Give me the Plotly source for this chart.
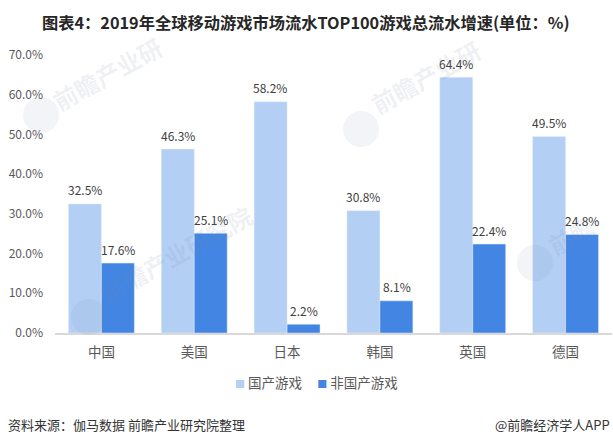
import plotly.graph_objects as go

categories = ["中国", "美国", "日本", "韩国", "英国", "德国"]
domestic = [32.5, 46.3, 58.2, 30.8, 64.4, 49.5]
non_domestic = [17.6, 25.1, 2.2, 8.1, 22.4, 24.8]
y_ticks = [0, 10, 20, 30, 40, 50, 60, 70]
y_labels = ["0.0%", "10.0%", "20.0%", "30.0%", "40.0%", "50.0%", "60.0%", "70.0%"]

FONT = "Noto Sans CJK SC"
W, H = 613, 445
LEFT, RIGHT, TOP, BOTTOM = 55, 612, 55, 333
LIGHT, DARK = "#B3CFF4", "#4285E3"


# 像素转 paper 坐标 (paper 相对绘图区)
def px_x(p):
    return (p - LEFT) / (RIGHT - LEFT)


def px_y(p):
    return (BOTTOM - p) / (BOTTOM - TOP)


def add_text(x, y, text, size, color, xanchor="center"):
    fig.add_annotation(
        x=px_x(x), y=px_y(y), xref="paper", yref="paper", text=text, xanchor=xanchor, yanchor="middle",
        showarrow=False, font=dict(family=FONT, size=size, color=color),
    )


fig = go.Figure()
fig.add_trace(go.Bar(x=categories, y=domestic, name="国产游戏", marker_color=LIGHT))
fig.add_trace(go.Bar(x=categories, y=non_domestic, name="非国产游戏", marker_color=DARK))

# 数值标签
for cat, a, b in zip(categories, domestic, non_domestic):
    for val, shift in [(a, -16.7), (b, 16.7)]:
        fig.add_annotation(
            x=cat, y=val, text=f"{val:.1f}%", xshift=shift, yshift=14, showarrow=False,
            font=dict(family=FONT, size=12, color="#404040"),
        )

# 水印
for x, y, txt in [(107, 73, "前瞻产业研"), (426, 77, "前瞻产业研"), (176, 253, "前瞻产业研究院"), (571, 235, "前瞻")]:
    fig.add_annotation(
        x=px_x(x), y=px_y(y), xref="paper", yref="paper", text=f"<b>{txt}</b>", xanchor="center", yanchor="middle",
        showarrow=False, textangle=-29, font=dict(family=FONT, size=24, color="rgba(120,135,165,0.13)"),
    )
for x, y in [(41, 115), (361, 129), (89, 317), (535, 263)]:
    fig.add_shape(
        type="circle", xref="paper", yref="paper", layer="above", line_width=0,
        x0=px_x(x - 18), x1=px_x(x + 18), y0=px_y(y + 18), y1=px_y(y - 18),
        fillcolor="rgba(120,135,165,0.09)",
    )

add_text(306, 22, "<b>图表4：2019年全球移动游戏市场流水TOP100游戏总流水增速(单位：%)</b>", 16.25, "#262626")
add_text(6, 424, "资料来源：伽马数据 前瞻产业研究院整理", 13, "#333333", "left")
add_text(612, 424, "@前瞻经济学人APP", 13, "#333333", "right")
add_text(
    316, 382,
    f"<span style='color:{LIGHT};font-size:10px'>■</span> 国产游戏&nbsp;&nbsp;&nbsp;&nbsp;&nbsp;"
    f"<span style='color:{DARK};font-size:10px'>■</span> 非国产游戏",
    13.5, "#595959",
)

fig.update_layout(
    width=W, height=H, autosize=False,
    margin=dict(l=LEFT, r=W - RIGHT, t=TOP, b=H - BOTTOM),
    paper_bgcolor="white", plot_bgcolor="white",
    font=dict(family=FONT, size=12, color="#595959"),
    barmode="group", bargap=0.29, bargroupgap=0,
    showlegend=False,
)
fig.update_xaxes(
    showgrid=False, showline=True, linecolor="#D9D9D9", linewidth=1.5, ticks="",
    ticklabelstandoff=6, tickfont=dict(size=13.5, color="#595959"),
)
fig.update_yaxes(
    range=[0, 70], tickvals=y_ticks, ticktext=y_labels, showgrid=False, zeroline=False,
    ticks="", ticklabelstandoff=11, tickfont=dict(size=12, color="#595959"),
)

# 去掉 body 默认边距
fig.write_html("out.html", config={"displayModeBar": False}, post_script="document.body.style.margin='0';")
